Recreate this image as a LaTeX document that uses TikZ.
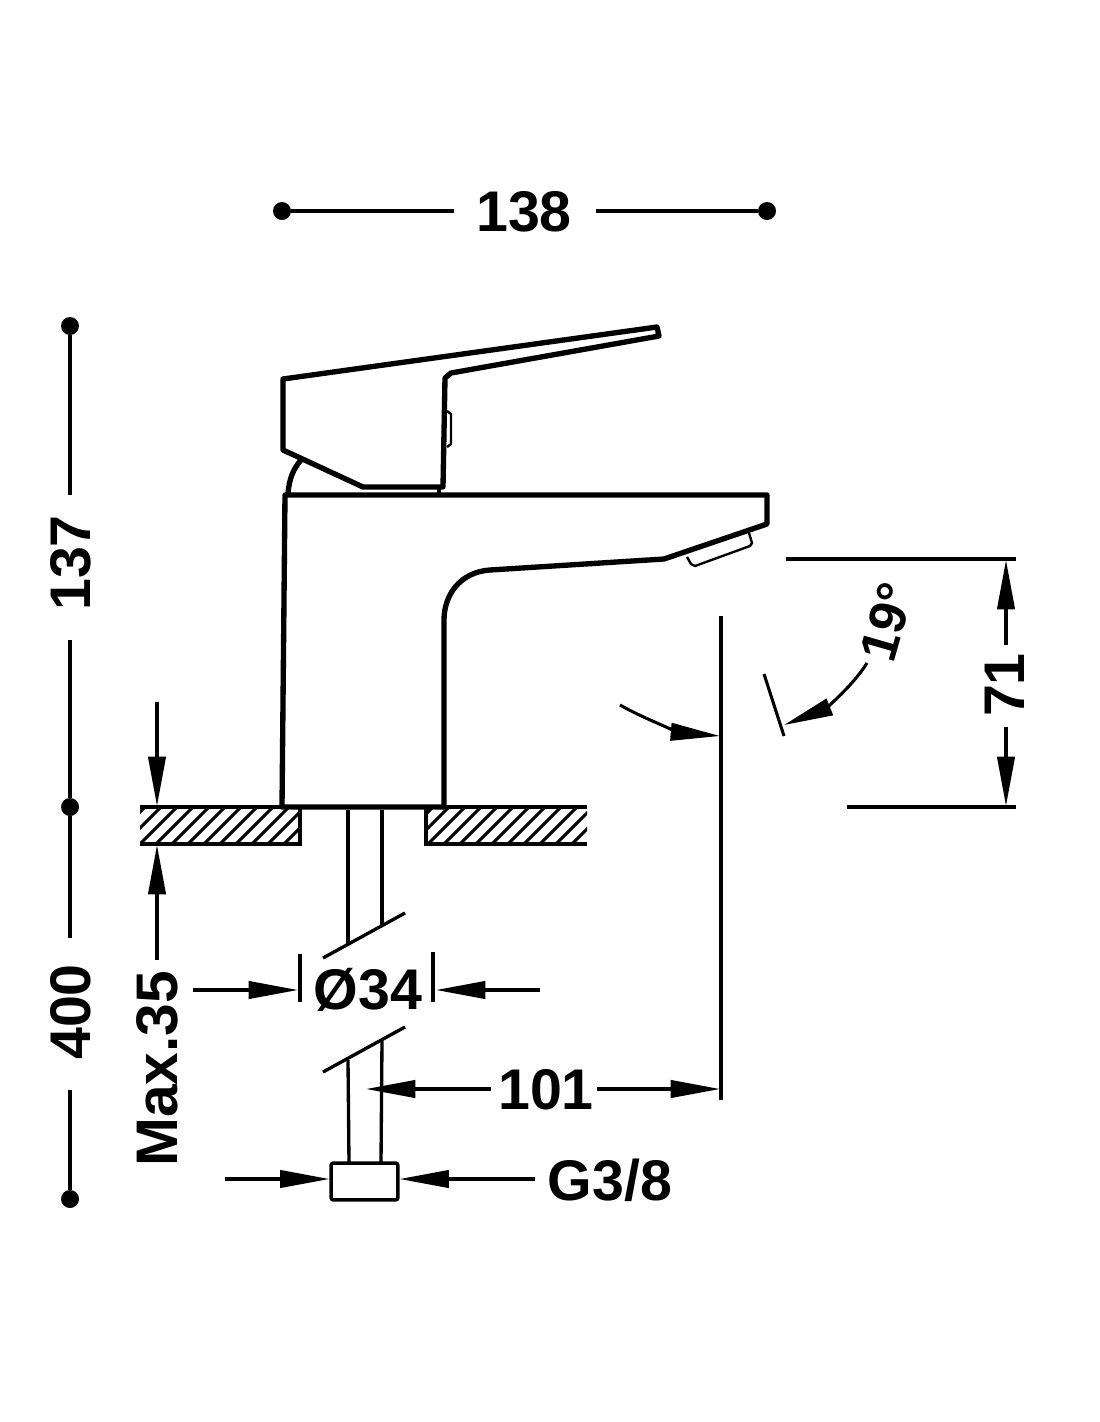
\documentclass[tikz,border=0pt]{standalone}
\usepackage{fontspec}
\setmainfont{Liberation Sans}
\usetikzlibrary{arrows.meta}
\tikzset{
 body/.style={line width=4pt,line join=round,line cap=round},
 thin part/.style={line width=1.8pt,line join=round},
 dimline/.style={line width=2.3pt},
 pipe/.style={line width=2.5pt},
 arr/.style={dimline,-{Triangle[length=37pt,width=13pt]}},
 dim/.style={font=\bfseries\fontsize{43pt}{43pt}\selectfont,inner sep=0pt},
 dot/.style={circle,fill=black,inner sep=0pt,minimum size=13.5pt},
}
\begin{document}
\begin{tikzpicture}[x=0.75pt,y=-0.75pt]
\useasboundingbox (0,0) rectangle (1100,1422);
% overall width
\node[dot] (w1) at (282,211) {};
\node[dot] (w2) at (767,211) {};
\node[dim] (t138) at (524,212) {138};
\coordinate (w1e) at (454,211);
\coordinate (w2e) at (596,211);
\draw[dimline] (w1) -- (w1e) (w2e) -- (w2);
% heights
\node[dot] (h1) at (70,326) {};
\node[dot] (h2) at (70,807) {};
\node[dot] (h3) at (70,1199) {};
\node[dim,rotate=90] (t137) at (71,563) {137};
\node[dim,rotate=90] (t400) at (71,1012) {400};
\coordinate (a1) at (70,495); \coordinate (a2) at (70,640);
\coordinate (a3) at (70,938); \coordinate (a4) at (70,1090);
\draw[dimline] (h1) -- (a1) (a2) -- (h2) -- (a3) (a4) -- (h3);
% handle
\draw[body] (283,379) -- (657,327) -- (659,336) -- (451,373) -- (445,378) -- (443,487) -- (363,487) -- (283,450) -- cycle;
\draw[thin part] (447,411) -- (451,414) -- (451,444) -- (447,447);
\draw[body] (288,494) .. controls (289,478) and (294,468) .. (301,460);
\draw[line width=3pt] (439,487) -- (439,495);
% body
\draw[body] (282,807) -- (285,495) -- (767,495) -- (767,524) -- (664,559) -- (490,570) .. controls (460,572) and (444,595) .. (444,620) -- (444,807) -- cycle;
\draw[thin part] (687,557) -- (691,564) -- (695,566) -- (750,546) -- (752,543) -- (749,533);
% counter
\begin{scope}
\clip (140,807) rectangle (300,844);
\foreach \k in {0,16,...,208}{\draw[line width=2.3pt] (108+\k,844) -- (145+\k,807);}
\end{scope}
\begin{scope}
\clip (426,807) rectangle (587,844);
\foreach \k in {0,16,...,208}{\draw[line width=2.3pt] (396+\k,844) -- (433+\k,807);}
\end{scope}
\draw[line width=2.6pt] (140,807) -- (300,807) -- (300,844) -- (140,844);
\draw[line width=2.6pt] (587,807) -- (426,807) -- (426,844) -- (587,844);
% pipes
\draw[pipe] (348,810) -- (348,945) (382,810) -- (382,925);
\draw[pipe] (323,958) -- (405,913);
\draw[pipe] (323,1072) -- (405,1027);
\draw[pipe] (348,1060) -- (349,1163) (382,1041) -- (381,1163);
\node[draw,line width=2.6pt,rounded corners=1.5pt,minimum width=50pt,minimum height=27.5pt,inner sep=0pt] (nut) at (364.5,1181.5) {};
% diameter
\node[dim] (t34) at (368,990) {Ø34};
\draw[dimline] (300,954) -- (300,1002) (433,952) -- (433,1002);
\coordinate (d1) at (193,990); \coordinate (d1t) at (298,990);
\coordinate (d2) at (540,990); \coordinate (d2t) at (436,990);
\draw[arr] (d1) -- (d1t);
\draw[arr] (d2) -- (d2t);
% 101
\node[dim] (t101) at (546,1090) {101};
\coordinate (c1) at (491,1089); \coordinate (c1t) at (366,1089);
\coordinate (c2) at (597,1089); \coordinate (c2t) at (720,1089);
\draw[arr] (c1) -- (c1t);
\draw[arr] (c2) -- (c2t);
\coordinate (v1) at (721,616); \coordinate (v2) at (721,1100);
\draw[dimline] (v1) -- (v2);
% G3/8
\node[dim] (tg) at (610,1180) {G3/8};
\coordinate (g1) at (225,1179); \coordinate (g2) at (535,1179);
\draw[arr] (g1) -- (nut.west |- g1);
\draw[arr] (g2) -- (nut.east |- g2);
% Max.35
\node[dim,font=\bfseries\fontsize{44pt}{44pt}\selectfont,rotate=90] (tmax) at (157,1069) {Max.35};
\coordinate (m1) at (157,702); \coordinate (m1t) at (157,806);
\coordinate (m2) at (157,960); \coordinate (m2t) at (157,845);
\draw[arr] (m1) -- (m1t);
\draw[arr] (m2) -- (m2t);
% 71
\node[dim,rotate=90] (t71) at (1005,685) {71};
\draw[dimline] (786,559) -- (1016,559) (847,807) -- (1016,807);
\coordinate (s1) at (1006,645); \coordinate (s1t) at (1006,560);
\coordinate (s2) at (1006,727); \coordinate (s2t) at (1006,806);
\draw[arr] (s1) -- (s1t);
\draw[arr] (s2) -- (s2t);
% 19 deg
\node[dim,font=\bfseries\fontsize{39pt}{39pt}\selectfont,rotate=74] (t19) at (887,622) {19°};
\draw[dimline] (764,674) -- (784,736);
\coordinate (r1) at (867,663); \coordinate (r1t) at (784,725);
\draw[arr] (r1) .. controls (850,690) and (822,710) .. (r1t);
\coordinate (r2) at (620,705); \coordinate (r2t) at (720,736);
\draw[arr] (r2) .. controls (650,722) and (685,733) .. (r2t);
\end{tikzpicture}
\end{document}
